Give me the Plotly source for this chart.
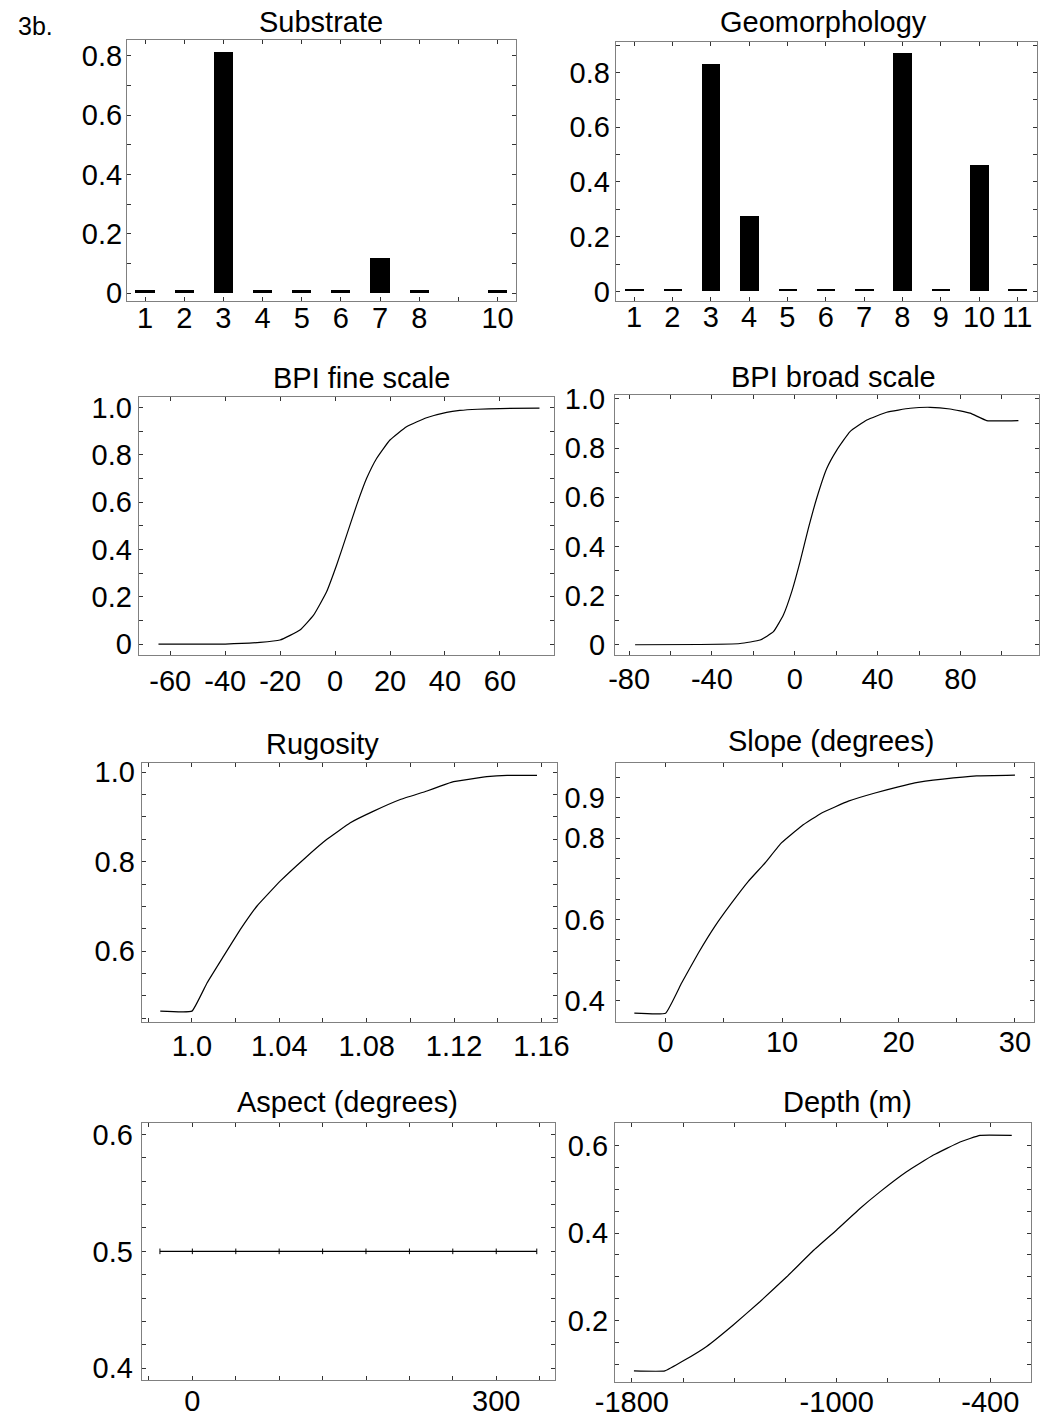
import plotly.graph_objects as go

W, H = 1047, 1419
FONT = "Liberation Sans, Arial, sans-serif"

# ---------------- data ----------------
substrate_cat = [1, 2, 3, 4, 5, 6, 7, 8, 10]
substrate_val = [0.012, 0.012, 0.813, 0.012, 0.012, 0.012, 0.118, 0.012, 0.012]

geomorph_cat = [1, 2, 3, 4, 5, 6, 7, 8, 9, 10, 11]
geomorph_val = [0.009, 0.009, 0.83, 0.274, 0.009, 0.009, 0.009, 0.871, 0.009, 0.461, 0.009]

bpi_fine_x = [-64.3, -40, -27.35, -20.07, -12.8, -7.85, -3.1, 0.56, 4.2, 7.84, 11.48, 15.1,
              19.97, 26.0, 33.3, 40.6, 45.4, 51.9, 60, 74.4]
bpi_fine_y = [0.0, 0.0, 0.007, 0.017, 0.059, 0.122, 0.221, 0.334, 0.46, 0.587, 0.70, 0.784,
              0.862, 0.918, 0.956, 0.979, 0.987, 0.992, 0.995, 0.997]

bpi_broad_x = [-77.1, -45.7, -26.4, -16.7, -10.3, -5.5, -1.45, 2.57, 6.6, 10.6, 15.5, 20.3,
               26.7, 34.8, 44.4, 55.7, 65.4, 75.0, 84.7, 92.7, 108]
bpi_broad_y = [0.0, 0.001, 0.005, 0.019, 0.053, 0.121, 0.216, 0.338, 0.474, 0.596, 0.718, 0.792,
               0.867, 0.914, 0.946, 0.962, 0.966, 0.959, 0.942, 0.912, 0.912]

rug_x = [0.9855, 1.0, 1.0069, 1.0145, 1.0221, 1.0298, 1.0405, 1.0511, 1.0618, 1.0725,
         1.0832, 1.0954, 1.1076, 1.1137, 1.1198, 1.135, 1.1443, 1.158]
rug_y = [0.466, 0.466, 0.529, 0.589, 0.648, 0.701, 0.757, 0.805, 0.850, 0.887,
         0.913, 0.939, 0.958, 0.969, 0.979, 0.990, 0.993, 0.993]

slope_x = [-2.69, 0, 1.37, 2.81, 4.24, 5.67, 7.1, 8.53, 9.96, 11.68, 13.4, 15.69,
           17.98, 19.98, 21.4, 23.8, 26.7, 30]
slope_y = [0.370, 0.370, 0.444, 0.518, 0.584, 0.641, 0.694, 0.739, 0.789, 0.830, 0.862, 0.891,
           0.911, 0.926, 0.936, 0.945, 0.953, 0.955]

aspect_x = [-32, 0, 42.9, 85.7, 128.6, 171.4, 214.3, 257.1, 300, 340]
aspect_y = [0.5, 0.5, 0.5, 0.5, 0.5, 0.5, 0.5, 0.5, 0.5, 0.5]

depth_x = [-1792, -1671, -1599, -1508, -1404, -1300, -1195, -1091, -1000, -909, -831,
           -727, -622, -518, -440, -316]
depth_y = [0.085, 0.085, 0.108, 0.141, 0.190, 0.243, 0.300, 0.360, 0.407, 0.456, 0.494,
           0.540, 0.578, 0.608, 0.623, 0.623]

titles = ["Substrate", "Geomorphology", "BPI fine scale", "BPI broad scale",
          "Rugosity", "Slope (degrees)", "Aspect (degrees)", "Depth (m)"]

# ---------------- layout geometry (pixels) ----------------
boxes = [
    (127, 516, 40, 301),
    (615.7, 1037.3, 42.3, 301),
    (138.7, 554.3, 396.7, 654.7),
    (615, 1038.7, 395, 655.3),
    (141.7, 556.7, 763.3, 1022.3),
    (615.7, 1034.3, 763.3, 1021.7),
    (141.7, 555, 1122.7, 1380),
    (615, 1030.7, 1122.7, 1382.3),
]
title_pos = [(321, 22), (823, 22), (361, 378), (833, 377),
             (322, 744), (831, 741), (347, 1102), (847, 1102)]
x_standoff = [-9, -10, 0, -2, -2, -6, -5, -6]
y_standoff = [-2, -1, 0, 3, 0, 4, 2, 0]


def seq(a, b, step):
    n = int(round((b - a) / step))
    return [round(a + i * step, 4) for i in range(n + 1)]


def labelled(vals, labels):
    return [labels.get(round(v, 4), "") for v in vals]


xaxes = [
    ([0.54, 10.47], list(range(1, 11)), ["1", "2", "3", "4", "5", "6", "7", "8", "", "10"]),
    ([0.52, 11.52], list(range(1, 12)), [str(i) for i in range(1, 12)]),
    ([-71.5, 79.8], [-60, -40, -20, 0, 20, 40, 60], ["-60", "-40", "-20", "0", "20", "40", "60"]),
    ([-86.8, 117.8], [-80, -60, -40, -20, 0, 20, 40, 60, 80, 100],
     ["-80", "", "-40", "", "0", "", "40", "", "80", ""]),
    ([0.977, 1.167], [0.98, 1.0, 1.02, 1.04, 1.06, 1.08, 1.10, 1.12, 1.14, 1.16],
     ["", "1.0", "", "1.04", "", "1.08", "", "1.12", "", "1.16"]),
    ([-4.29, 31.66], [0, 5, 10, 15, 20, 25, 30], ["0", "", "10", "", "20", "", "30"]),
    ([-50, 358], [i * 300 / 7 for i in range(-1, 9)],
     ["", "0", "", "", "", "", "", "", "300", ""]),
    ([-1866, -242], [-1800, -1600, -1400, -1200, -1000, -800, -600, -400],
     ["-1800", "", "", "", "-1000", "", "", "-400"]),
]

v1 = seq(0, 0.8, 0.1)
v2 = seq(0, 0.9, 0.1)
v3 = seq(0, 1.0, 0.1)
v4 = seq(0, 1.0, 0.1)
v5 = seq(0.45, 1.0, 0.05)
v6 = seq(0.35, 0.95, 0.05)
v7 = seq(0.4, 0.6, 0.02)
v8 = seq(0.1, 0.65, 0.05)
std = {0.0: "0", 0.2: "0.2", 0.4: "0.4", 0.6: "0.6", 0.8: "0.8", 1.0: "1.0"}
yaxes = [
    ([-0.026, 0.853], v1, labelled(v1, std)),
    ([-0.035, 0.91], v2, labelled(v2, std)),
    ([-0.045, 1.045], v3, labelled(v3, std)),
    ([-0.043, 1.016], v4, labelled(v4, std)),
    ([0.441, 1.02], v5, labelled(v5, {0.6: "0.6", 0.8: "0.8", 1.0: "1.0"})),
    ([0.349, 0.984], v6, labelled(v6, {0.4: "0.4", 0.6: "0.6", 0.8: "0.8", 0.9: "0.9"})),
    ([0.39, 0.61], v7, labelled(v7, {0.4: "0.4", 0.5: "0.5", 0.6: "0.6"})),
    ([0.059, 0.652], v8, labelled(v8, {0.2: "0.2", 0.4: "0.4", 0.6: "0.6"})),
]

fig = go.Figure()

fig.add_trace(go.Bar(x=substrate_cat, y=substrate_val, width=0.49,
                     marker=dict(color="black", line=dict(width=0)),
                     xaxis="x", yaxis="y", showlegend=False))
fig.add_trace(go.Bar(x=geomorph_cat, y=geomorph_val, width=0.48,
                     marker=dict(color="black", line=dict(width=0)),
                     xaxis="x2", yaxis="y2", showlegend=False))

line_data = [(bpi_fine_x, bpi_fine_y), (bpi_broad_x, bpi_broad_y), (rug_x, rug_y),
             (slope_x, slope_y), (aspect_x, aspect_y), (depth_x, depth_y)]
smooth = {3: 0.4, 4: 0.4, 5: 0.3, 6: 0.3, 8: 0.3}
for i, (xs, ys) in enumerate(line_data):
    k = i + 3
    if k == 7:
        extra = dict(mode="lines+markers",
                     marker=dict(symbol="line-ns", size=4, line=dict(width=1, color="black")))
    else:
        extra = dict(mode="lines")
    if k in smooth:
        ln = dict(color="black", width=1.2, shape="spline", smoothing=smooth[k])
    else:
        ln = dict(color="black", width=1.2)
    fig.add_trace(go.Scatter(x=xs, y=ys, line=ln,
                             xaxis=f"x{k}", yaxis=f"y{k}", showlegend=False, **extra))

layout = dict(
    template="none",
    width=W, height=H,
    margin=dict(l=0, r=0, t=0, b=0, pad=0, autoexpand=False),
    paper_bgcolor="white", plot_bgcolor="white",
    font=dict(family=FONT, size=28, color="black"),
    bargap=0,
)

for i in range(8):
    x0, x1, y0, y1 = boxes[i]
    k = "" if i == 0 else str(i + 1)
    xr, xtv, xtt = xaxes[i]
    yr, ytv, ytt = yaxes[i]
    common = dict(showline=True, mirror="ticks", linecolor="#808080", linewidth=1,
                  ticks="inside", ticklen=4, tickwidth=1, tickcolor="#333333",
                  showgrid=False, zeroline=False, autorange=False, automargin=False,
                  tickfont=dict(family=FONT, size=29, color="black"))
    layout["xaxis" + k] = dict(domain=[x0 / W, x1 / W], range=xr, tickmode="array",
                               tickvals=xtv, ticktext=xtt, anchor="y" + k,
                               ticklabelstandoff=x_standoff[i], **common)
    layout["yaxis" + k] = dict(domain=[1 - y1 / H, 1 - y0 / H], range=yr, tickmode="array",
                               tickvals=ytv, ticktext=ytt, anchor="x" + k,
                               ticklabelstandoff=y_standoff[i], **common)

ann = []
for t, (px, py) in zip(titles, title_pos):
    ann.append(dict(text=t, x=px / W, y=1 - py / H, xref="paper", yref="paper",
                    xanchor="center", yanchor="middle", showarrow=False,
                    font=dict(family=FONT, size=29, color="black")))
ann.append(dict(text="3b.", x=35 / W, y=1 - 26 / H, xref="paper", yref="paper",
                xanchor="center", yanchor="middle", showarrow=False,
                font=dict(family=FONT, size=25, color="black")))
layout["annotations"] = ann

fig.update_layout(**layout)
fig.write_html("out.html")
